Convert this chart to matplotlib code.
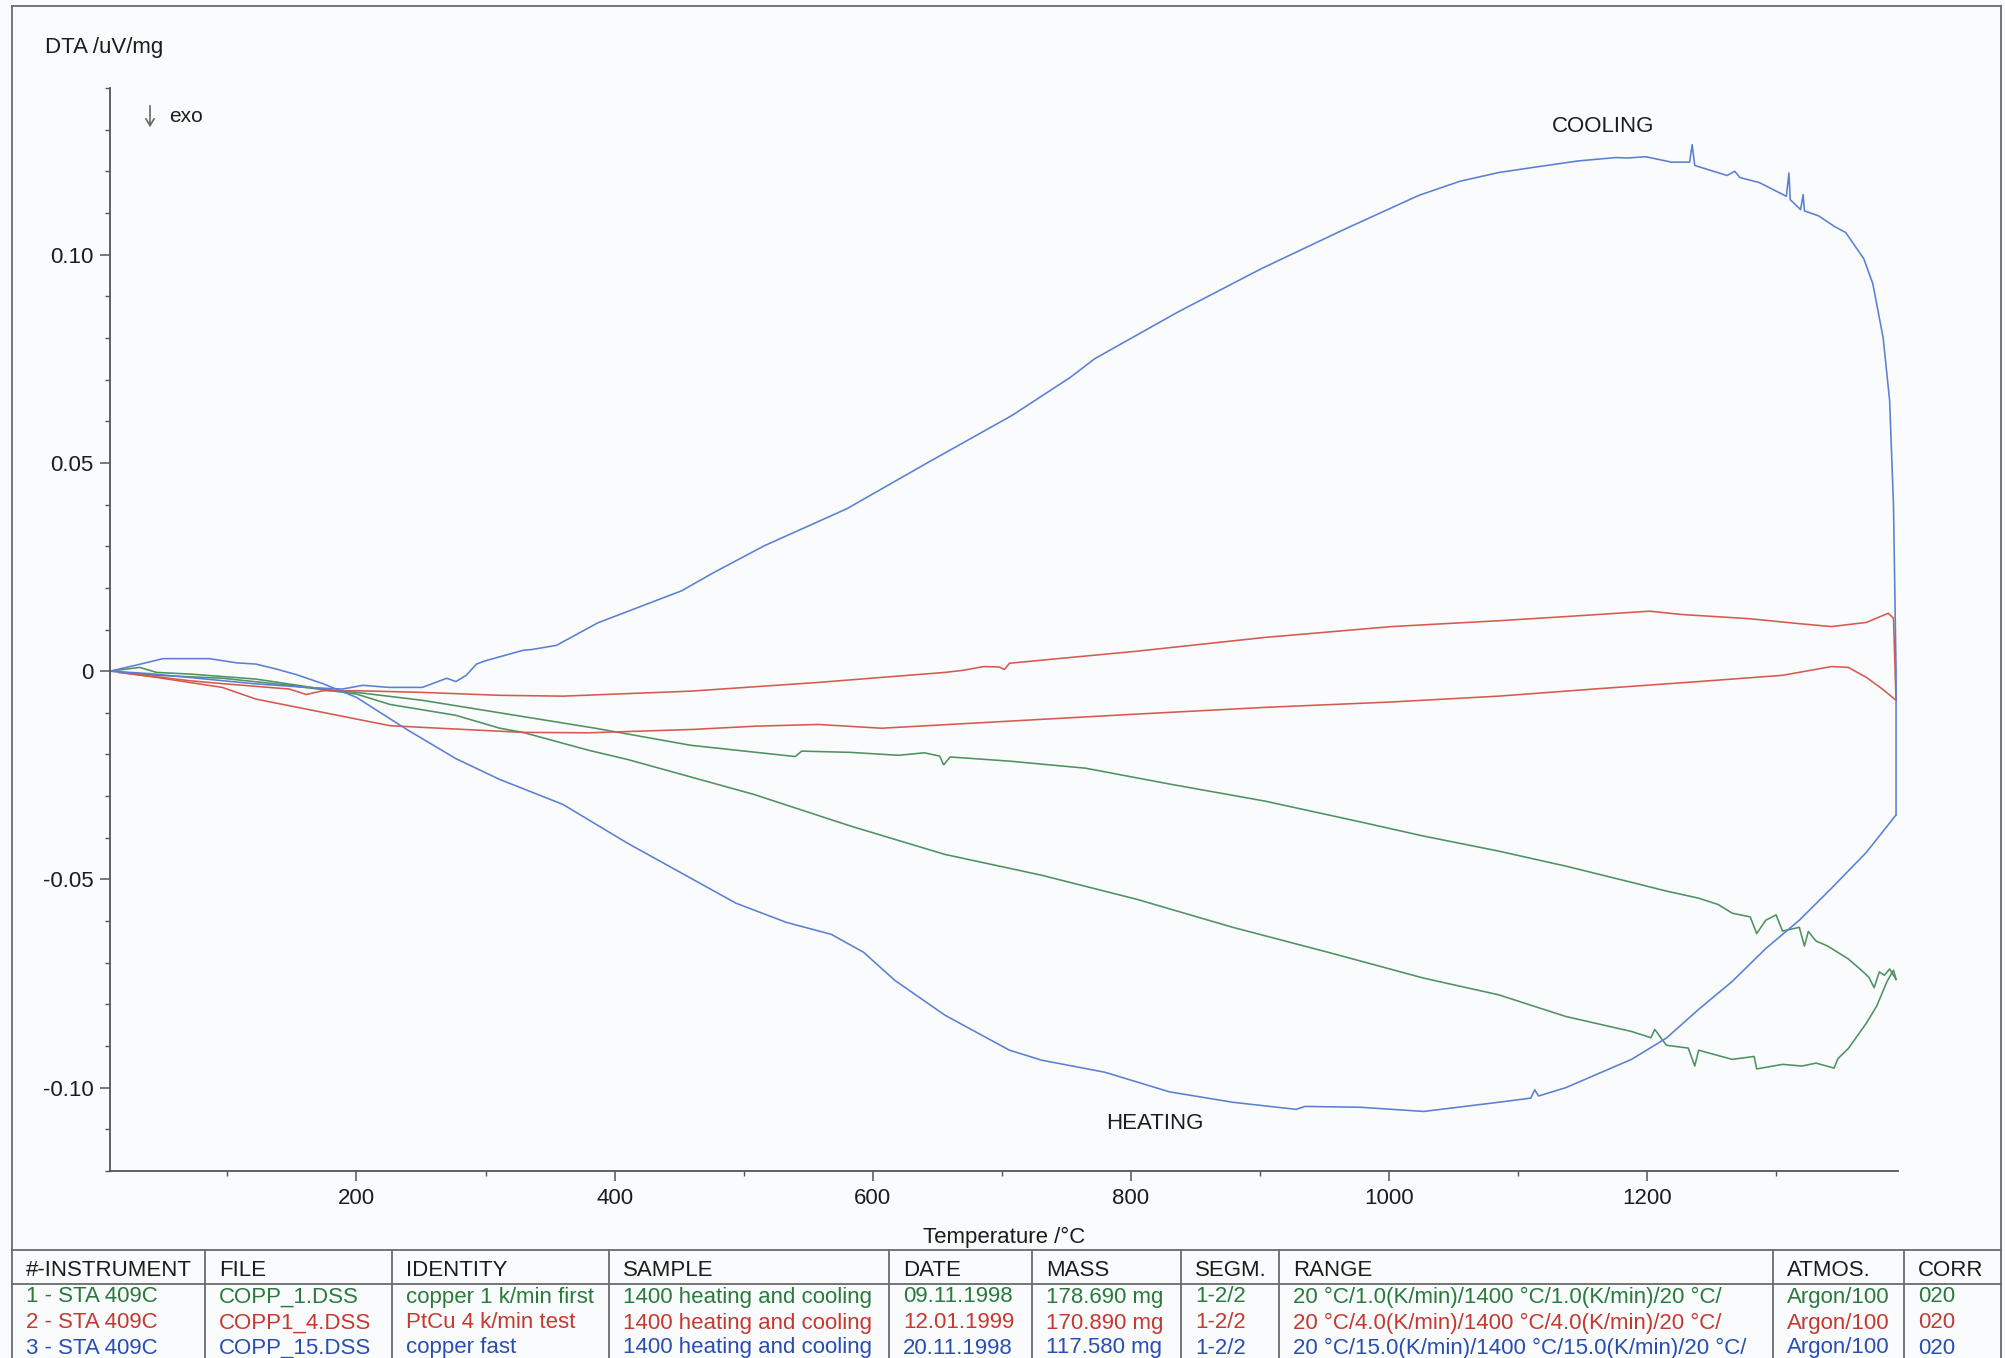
import matplotlib
matplotlib.use("Agg")
import matplotlib.pyplot as plt
from matplotlib.lines import Line2D
from matplotlib.ticker import MultipleLocator, FuncFormatter

plt.rcParams['font.family'] = ['Liberation Sans', 'DejaVu Sans']
plt.rcParams['axes.unicode_minus'] = False

# ---- DTA curves (temperature in °C, DTA signal in uV/mg) ----
# Run 3, copper fast (15 K/min)
blue_heat_T = [9, 30, 50, 86, 107, 122, 138, 153, 174, 200, 239, 277, 311, 360, 410, 459,
               494, 533, 568, 593, 617, 656, 706, 731, 780, 830, 879, 928, 935, 978, 1027,
               1085, 1110, 1113, 1116, 1137, 1188, 1215, 1240, 1266, 1292, 1318, 1343, 1370, 1393]
blue_heat_v = [0.0, 0.0015, 0.003, 0.003, 0.002, 0.0017, 0.0005, -0.0008, -0.003, -0.0063,
               -0.014, -0.021, -0.026, -0.032, -0.0413, -0.0497, -0.0557, -0.0603, -0.0632,
               -0.0675, -0.0742, -0.0826, -0.091, -0.0934, -0.0963, -0.101, -0.1035, -0.1052,
               -0.1045, -0.1047, -0.1057, -0.1035, -0.1025, -0.1005, -0.102, -0.100, -0.0932,
               -0.0881, -0.0812, -0.0745, -0.0666, -0.0598, -0.0521, -0.0435, -0.0345]
blue_cool_T = [1393, 1393, 1391, 1388, 1383, 1375, 1368, 1354, 1345, 1333, 1322, 1321, 1319,
               1311, 1310, 1308, 1287, 1272, 1268, 1262, 1237, 1235, 1233, 1219, 1199, 1185,
               1176, 1147, 1111, 1085, 1055, 1023, 965, 901, 837, 772, 753, 708, 644, 580, 516,
               477, 452, 387, 355, 336, 329, 300, 293, 285, 277, 270, 251, 225, 205, 189, 161,
               120, 80, 40, 9]
blue_cool_v = [-0.0345, 0.0, 0.040, 0.065, 0.080, 0.093, 0.099, 0.1053, 0.1068, 0.1093, 0.1105,
               0.1144, 0.1108, 0.1132, 0.1196, 0.1140, 0.1173, 0.1185, 0.1200, 0.1190, 0.1214,
               0.1264, 0.1222, 0.1222, 0.1235, 0.1232, 0.1233, 0.1225, 0.1209, 0.1197, 0.1176,
               0.1142, 0.1060, 0.0966, 0.0863, 0.0750, 0.0705, 0.0614, 0.0503, 0.0390, 0.0301,
               0.0237, 0.0193, 0.0116, 0.0062, 0.0052, 0.0050, 0.0025, 0.0017, -0.0010, -0.0025,
               -0.0017, -0.0039, -0.0039, -0.0034, -0.0043, -0.0039, -0.0030, -0.0018, -0.0006, 0.0]

# Run 1, copper 1 K/min
green_heat_T = [9, 45, 96, 148, 200, 226, 277, 311, 329, 380, 410, 508, 583, 656, 731, 805, 879,
                953, 1027, 1085, 1137, 1188, 1203, 1206, 1215, 1232, 1237, 1240, 1266, 1283,
                1285, 1305, 1320, 1331, 1345, 1348, 1356, 1370, 1378, 1386, 1391, 1393]
green_heat_v = [0.0, -0.001, -0.0017, -0.0034, -0.0055, -0.008, -0.0106, -0.0137, -0.0147,
                -0.019, -0.0212, -0.0296, -0.0372, -0.044, -0.049, -0.0548, -0.0615, -0.0675,
                -0.0737, -0.0777, -0.0829, -0.0865, -0.0880, -0.0860, -0.0898, -0.0905, -0.0948,
                -0.0910, -0.0932, -0.0925, -0.0955, -0.0944, -0.0948, -0.0941, -0.0953, -0.0930,
                -0.0906, -0.0845, -0.0804, -0.0745, -0.0718, -0.0740]
green_cool_T = [1393, 1388, 1384, 1380, 1376, 1372, 1365, 1356, 1340, 1331, 1325, 1322, 1318,
                1305, 1300, 1292, 1285, 1280, 1266, 1255, 1240, 1215, 1188, 1137, 1085, 1027,
                978, 904, 830, 765, 706, 660, 655, 652, 640, 620, 583, 545, 540, 459, 385, 311,
                251, 200, 174, 122, 71, 45, 32, 9]
green_cool_v = [-0.074, -0.0715, -0.0730, -0.0722, -0.0760, -0.0735, -0.0715, -0.0691, -0.0660,
                -0.0648, -0.0625, -0.0660, -0.0615, -0.0624, -0.0585, -0.0598, -0.0630, -0.0590,
                -0.0581, -0.0560, -0.0545, -0.0528, -0.0507, -0.0468, -0.0432, -0.0396, -0.0362,
                -0.0312, -0.0271, -0.0233, -0.0216, -0.0206, -0.0225, -0.0204, -0.0196, -0.0202,
                -0.0195, -0.0192, -0.0205, -0.0178, -0.0137, -0.0100, -0.0070, -0.0051, -0.0043,
                -0.0019, -0.0007, -0.0003, 0.0009, 0.0]

# Run 2, PtCu 4 K/min
red_heat_T = [16, 45, 96, 122, 174, 226, 277, 329, 380, 410, 460, 510, 558, 607, 706, 805, 904,
              1002, 1085, 1163, 1240, 1305, 1343, 1356, 1370, 1382, 1393]
red_heat_v = [-0.0003, -0.0015, -0.0039, -0.0067, -0.0099, -0.0131, -0.0139, -0.0147, -0.0148,
              -0.0145, -0.0140, -0.0132, -0.0128, -0.0137, -0.0120, -0.0103, -0.0087, -0.0074,
              -0.0060, -0.0042, -0.0025, -0.0010, 0.0011, 0.0009, -0.0015, -0.0042, -0.0070]
red_cool_T = [1393, 1392, 1391, 1387, 1380, 1370, 1343, 1318, 1279, 1227, 1202, 1137, 1085,
              1002, 904, 805, 706, 702, 698, 686, 670, 656, 558, 459, 360, 311, 251, 200, 174,
              161, 148, 96, 71, 16]
red_cool_v = [-0.0070, 0.0028, 0.0127, 0.0139, 0.0130, 0.0117, 0.0107, 0.0114, 0.0126, 0.0136,
              0.0144, 0.0131, 0.0121, 0.0107, 0.0081, 0.0048, 0.0019, 0.0004, 0.0010, 0.0011,
              0.0002, -0.0003, -0.0027, -0.0048, -0.0060, -0.0058, -0.0051, -0.0047, -0.0047,
              -0.0056, -0.0043, -0.0030, -0.0023, -0.0003]

x_major = [200, 400, 600, 800, 1000, 1200]
y_major = [-0.10, -0.05, 0.0, 0.05, 0.10]

# ---- measurement table ----
columns = ["#-INSTRUMENT", "FILE", "IDENTITY", "SAMPLE", "DATE", "MASS", "SEGM.", "RANGE",
           "ATMOS.", "CORR"]
table_rows = [
    ["1 - STA 409C", "COPP_1.DSS", "copper 1 k/min first", "1400 heating and cooling",
     "09.11.1998", "178.690 mg", "1-2/2", "20 °C/1.0(K/min)/1400 °C/1.0(K/min)/20 °C/",
     "Argon/100", "020"],
    ["2 - STA 409C", "COPP1_4.DSS", "PtCu 4 k/min test", "1400 heating and cooling",
     "12.01.1999", "170.890 mg", "1-2/2", "20 °C/4.0(K/min)/1400 °C/4.0(K/min)/20 °C/",
     "Argon/100", "020"],
    ["3 - STA 409C", "COPP_15.DSS", "copper fast", "1400 heating and cooling",
     "20.11.1998", "117.580 mg", "1-2/2", "20 °C/15.0(K/min)/1400 °C/15.0(K/min)/20 °C/",
     "Argon/100", "020"],
]

# colours
c_green_line, c_red_line, c_blue_line = "#4f9161", "#d6594d", "#5a7fd3"
c_green_txt, c_red_txt, c_blue_txt = "#2a7a3c", "#c43a30", "#2a4db3"
c_axis = "#555555"
c_text = "#1c1c1c"

W, H = 2005, 1358
fig = plt.figure(figsize=(W / 100, H / 100), dpi=100, facecolor="#f9fbfc")


def fx(px):
    return px / W


def fy(py):
    return 1 - py / H


ax_l, ax_r, ax_t, ax_b = 110, 1898, 88, 1171
ax = fig.add_axes([fx(ax_l), fy(ax_b), (ax_r - ax_l) / W, (ax_b - ax_t) / H])
ax.set_facecolor("none")

lw = 1.15
ax.plot(green_heat_T, green_heat_v, color=c_green_line, lw=lw)
ax.plot(green_cool_T, green_cool_v, color=c_green_line, lw=lw)
ax.plot(red_heat_T, red_heat_v, color=c_red_line, lw=lw)
ax.plot(red_cool_T, red_cool_v, color=c_red_line, lw=lw)
ax.plot(blue_heat_T, blue_heat_v, color=c_blue_line, lw=lw)
ax.plot(blue_cool_T, blue_cool_v, color=c_blue_line, lw=lw)

ax.set_xlim(9, 1394.5)
ax.set_ylim(-0.12, 0.14)

for s in ("top", "right"):
    ax.spines[s].set_visible(False)
for s in ("left", "bottom"):
    ax.spines[s].set_color(c_axis)
    ax.spines[s].set_linewidth(1.3)

ax.set_xticks(x_major)
ax.xaxis.set_minor_locator(MultipleLocator(100))
ax.set_yticks(y_major)
ax.yaxis.set_minor_locator(MultipleLocator(0.01))
ax.yaxis.set_major_formatter(FuncFormatter(lambda v, p: "0" if abs(v) < 1e-9 else f"{v:.2f}"))
ax.tick_params(axis="both", which="major", length=7, width=1.1, color=c_axis,
               labelsize=16, labelcolor=c_text)
ax.tick_params(axis="both", which="minor", length=3.5, width=1.0, color=c_axis)
ax.tick_params(axis="x", which="major", pad=5)
ax.tick_params(axis="y", which="major", pad=5)

ax.text(1126, 0.1308, "COOLING", fontsize=16, color=c_text, ha="left", va="center")
ax.text(781, -0.1086, "HEATING", fontsize=16, color=c_text, ha="left", va="center")

fig.text(fx(45), fy(48), "DTA /uV/mg", fontsize=16, color=c_text, ha="left", va="center")
# exo direction marker
fig.add_artist(matplotlib.patches.FancyArrowPatch(
    (fx(150), fy(103)), (fx(150), fy(130)), transform=fig.transFigure,
    arrowstyle="->,head_length=5,head_width=3", color="#666666", lw=1.2))
fig.text(fx(169), fy(116), "exo", fontsize=15, color=c_text, ha="left", va="center")
fig.text(fx(1004), fy(1237), "Temperature /°C", fontsize=16, color=c_text,
         ha="center", va="center")

# outer frame
frame_col = "#6a6a6a"


def hline(y, x0, x1, lw_=1.3):
    fig.add_artist(Line2D([fx(x0), fx(x1)], [fy(y), fy(y)], color=frame_col, lw=lw_))


def vline(x, y0, y1, lw_=1.3):
    fig.add_artist(Line2D([fx(x), fx(x)], [fy(y0), fy(y1)], color=frame_col, lw=lw_))


hline(6, 12, 2001)
vline(12, 6, H)
vline(2001, 6, H)

# table grid
tbl_top, hdr_bot = 1250, 1284
hline(tbl_top, 12, 2001)
hline(hdr_bot, 12, 2001)
seps = [205, 392, 609, 889, 1032, 1181, 1279, 1773, 1904]
for sx in seps:
    vline(sx, tbl_top, H)

col_x = [26] + [s + 14 for s in seps]
for cx, name in zip(col_x, columns):
    fig.text(fx(cx), fy(1270), name, fontsize=16, color=c_text, ha="left", va="center")

row_y = [1297, 1323, 1348]
row_cols = [c_green_txt, c_red_txt, c_blue_txt]
for ry, rc, row in zip(row_y, row_cols, table_rows):
    for cx, val in zip(col_x, row):
        fig.text(fx(cx), fy(ry), val, fontsize=16, color=rc, ha="left", va="center")

fig.savefig("out.png", dpi=100, facecolor=fig.get_facecolor())
